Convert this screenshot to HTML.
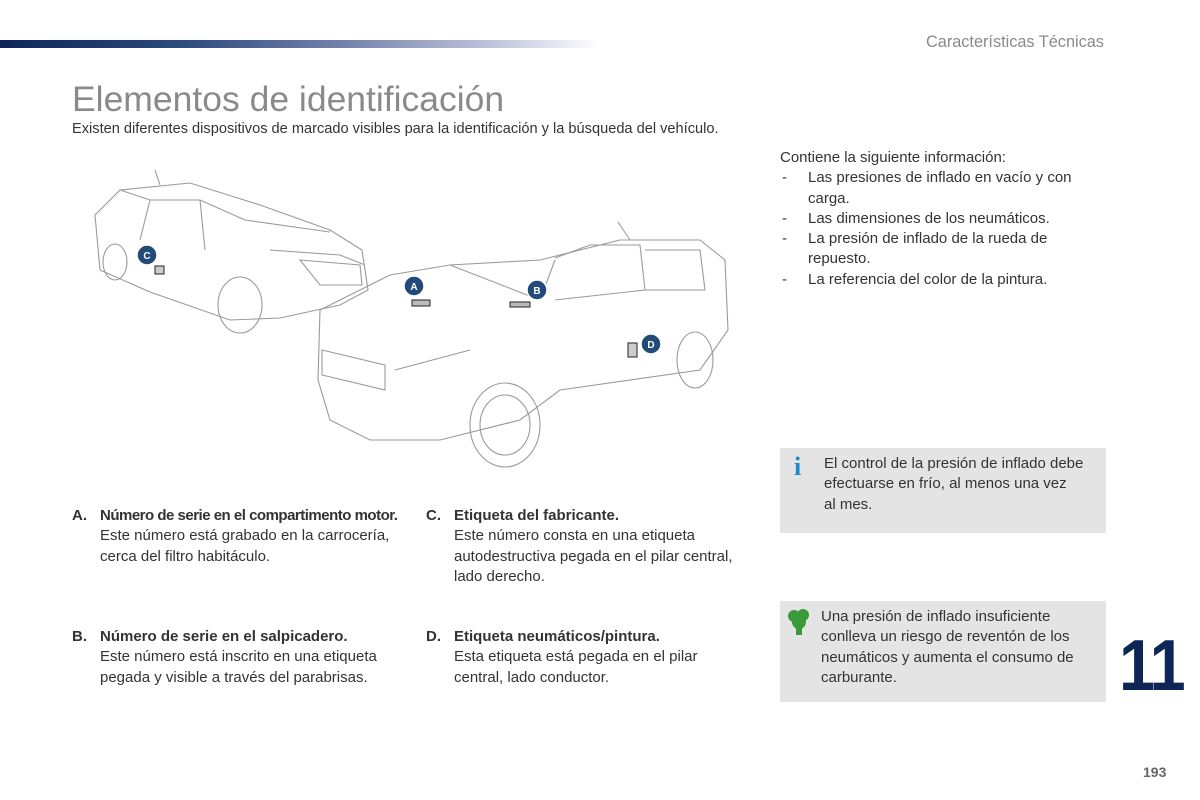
<!DOCTYPE html>
<html><head><meta charset="utf-8"><style>
body{margin:0;width:1200px;height:800px;background:#fff;position:relative;font-family:"Liberation Sans",sans-serif;color:#333;overflow:hidden}
.a{position:absolute}
.bar{left:0;top:40px;width:600px;height:8px;background:linear-gradient(90deg,#0d2656 0%,#2c4a7c 30%,#7b88b0 60%,#c9cde0 85%,#fff 100%)}
.t{font-size:15px;line-height:20.3px}
h1{position:absolute;left:72px;top:79px;margin:0;font-weight:normal;font-size:35.5px;color:#8a8a8a}
.box{background:#e4e4e4;left:780px;width:326px}
.lbl{display:inline-block;width:28px;font-weight:bold}
.ind{padding-left:28px}
.li{padding-left:28px;position:relative}
.li:before{content:"-";position:absolute;left:2px}
</style></head><body>
<div class="a bar"></div>
<div class="a" style="left:926px;top:33px;font-size:16.3px;color:#8a8a8a">Características Técnicas</div>
<h1>Elementos de identificación</h1>
<div class="a" style="left:72px;top:121px;font-size:14.6px">Existen diferentes dispositivos de marcado visibles para la identificación y la búsqueda del vehículo.</div>

<svg class="a" style="left:80px;top:170px" width="670" height="310" viewBox="80 170 670 310" fill="none" stroke="#9a9a9a" stroke-width="1.1">
<path d="M95 215 L120 190 L190 183 L260 205 L330 230 L362 250 L368 290 L340 305 L280 318 L230 320 L150 292 L100 270 Z"/>
<path d="M120 190 L150 200 L200 200 L245 220 M150 200 L140 240 M200 200 L205 250 M245 220 L330 232"/>
<path d="M270 250 L340 255 L365 265 M300 260 L360 265 L362 285 L320 285 Z"/>
<ellipse cx="240" cy="305" rx="22" ry="28"/><ellipse cx="115" cy="262" rx="12" ry="18"/>
<path d="M320 310 L390 275 L450 265 L540 260 L620 240 L700 240 L725 260 L728 330 L700 370 L560 390 L520 420 L440 440 L370 440 L330 420 L318 380 Z"/>
<path d="M450 265 L540 300 L555 260 M555 258 L590 245 L640 245 L645 290 L555 300 M645 250 L700 250 L705 290 L645 290"/>
<path d="M322 350 L385 365 L385 390 L322 375 Z M395 370 L470 350"/>
<ellipse cx="505" cy="425" rx="35" ry="42"/><ellipse cx="505" cy="425" rx="25" ry="30"/>
<ellipse cx="695" cy="360" rx="18" ry="28"/>
<line x1="630" y1="240" x2="618" y2="222"/><line x1="160" y1="185" x2="155" y2="170"/>
<g fill="#244a7a" stroke="#fff" stroke-width="1.5">
<circle cx="414" cy="286" r="10"/><circle cx="537" cy="290" r="10"/><circle cx="147" cy="255" r="10"/><circle cx="651" cy="344" r="10"/></g>
<g fill="#fff" stroke="none" font-family="Liberation Sans" font-size="10" font-weight="bold" text-anchor="middle">
<text x="414" y="290">A</text><text x="537" y="294">B</text><text x="147" y="259">C</text><text x="651" y="348">D</text></g>
<rect x="412" y="300" width="18" height="6" fill="#bbb" stroke="#333"/><rect x="510" y="302" width="20" height="5" fill="#bbb" stroke="#333"/>
<rect x="628" y="343" width="9" height="14" fill="#ccc" stroke="#333"/><rect x="155" y="266" width="9" height="8" fill="#ccc" stroke="#333"/>
</svg>

<div class="a t" style="left:780px;top:148px;width:300px">Contiene la siguiente información:
<div class="li">Las presiones de inflado en vacío y con carga.</div>
<div class="li">Las dimensiones de los neumáticos.</div>
<div class="li">La presión de inflado de la rueda de repuesto.</div>
<div class="li">La referencia del color de la pintura.</div></div>

<div class="a t" style="left:72px;top:506px;width:340px"><span class="lbl">A.</span><b style="letter-spacing:-0.5px">Número de serie en el compartimento motor.</b><div class="ind">Este número está grabado en la carrocería, cerca del filtro habitáculo.</div></div>
<div class="a t" style="left:72px;top:627px;width:340px"><span class="lbl">B.</span><b>Número de serie en el salpicadero.</b><div class="ind">Este número está inscrito en una etiqueta pegada y visible a través del parabrisas.</div></div>
<div class="a t" style="left:426px;top:506px;width:330px"><span class="lbl">C.</span><b>Etiqueta del fabricante.</b><div class="ind">Este número consta en una etiqueta autodestructiva pegada en el pilar central, lado derecho.</div></div>
<div class="a t" style="left:426px;top:627px;width:320px"><span class="lbl">D.</span><b>Etiqueta neumáticos/pintura.</b><div class="ind">Esta etiqueta está pegada en el pilar central, lado conductor.</div></div>

<div class="a box" style="top:448px;height:85px"></div>
<div class="a" style="left:794px;top:452px;font-family:'Liberation Serif',serif;font-weight:bold;font-size:26px;color:#1e88c8">i</div>
<div class="a t" style="left:824px;top:454px;width:275px">El control de la presión de inflado debe efectuarse en frío, al menos una vez<br>al mes.</div>

<div class="a box" style="top:601px;height:101px"></div>
<svg class="a" style="left:787px;top:608px" width="24" height="28"><circle cx="7" cy="8" r="6" fill="#3a9a3a"/><circle cx="16" cy="7" r="6" fill="#3a9a3a"/><circle cx="12" cy="14" r="7" fill="#3a9a3a"/><rect x="9" y="16" width="6" height="11" fill="#3a9a3a"/></svg>
<div class="a t" style="left:821px;top:607px;width:280px">Una presión de inflado insuficiente conlleva un riesgo de reventón de los neumáticos y aumenta el consumo de carburante.</div>

<div class="a" style="left:1119px;top:634px;font-size:72px;font-weight:bold;color:#0d2656;letter-spacing:-2px;line-height:64px;transform:scaleX(0.9);transform-origin:left">11</div>
<div class="a" style="left:1143px;top:764px;font-size:14px;font-weight:bold;color:#666">193</div>
</body></html>
